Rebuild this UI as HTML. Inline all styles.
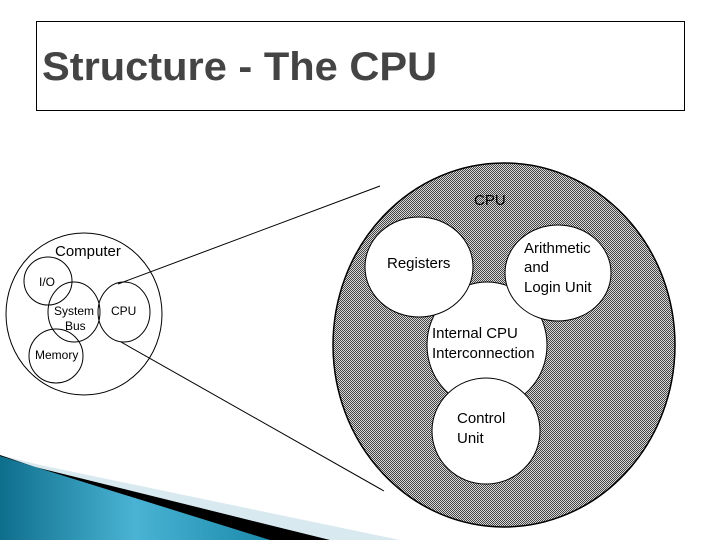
<!DOCTYPE html>
<html><head><meta charset="utf-8"><style>
html,body{margin:0;padding:0;background:#fff;width:720px;height:540px;overflow:hidden}
svg{display:block}
</style></head><body>
<svg width="720" height="540" viewBox="0 0 720 540" xmlns="http://www.w3.org/2000/svg" font-family="Liberation Sans, sans-serif">
<defs>
<pattern id="dith" width="2" height="2" patternUnits="userSpaceOnUse">
<rect width="2" height="2" fill="#d8d8d8"/><rect width="1" height="1" fill="#444"/><rect x="1" y="1" width="1" height="1" fill="#444"/>
</pattern>
<linearGradient id="teal" x1="0" y1="0" x2="1" y2="0">
<stop offset="0" stop-color="#0e6f8c"/><stop offset="0.5" stop-color="#4ab3d4"/><stop offset="1" stop-color="#1c8aab"/>
</linearGradient>
</defs>
<rect x="36.5" y="21.5" width="648" height="89" fill="none" stroke="#000" stroke-width="1"/>
<text x="42" y="80" font-size="40" font-weight="bold" fill="#444" transform="translate(42 0) scale(1.04 1) translate(-42 0)">Structure - The CPU</text>

<polygon points="0,455 40,465 400,540 0,540" fill="#d9e9f0"/>
<polygon points="0,455 35,467 330,540 0,540" fill="#000"/>
<polygon points="0,456 270,540 0,540" fill="url(#teal)"/>

<line x1="118" y1="284" x2="380" y2="186" stroke="#000" stroke-width="1"/>
<line x1="121" y1="342" x2="384" y2="491" stroke="#000" stroke-width="1"/>

<g fill="none" stroke="#000" stroke-width="1">
<ellipse cx="84" cy="314" rx="78" ry="81"/>
<circle cx="48" cy="281" r="24"/>
<ellipse cx="74" cy="312" rx="26" ry="30"/>
<ellipse cx="124" cy="312" rx="26" ry="30"/>
<circle cx="56" cy="356" r="27"/>
</g>
<g font-size="12" fill="#000">
<text x="55" y="256" font-size="15">Computer</text>
<text x="39" y="286">I/O</text>
<text x="54" y="315">System</text>
<text x="65" y="330">Bus</text>
<text x="111" y="315">CPU</text>
<text x="35" y="359">Memory</text>
</g>

<ellipse cx="504" cy="345" rx="171" ry="182" fill="url(#dith)" stroke="#000" stroke-width="1.5"/>
<g fill="#fff" stroke="#000" stroke-width="1">
<ellipse cx="487" cy="345" rx="60" ry="63"/>
<ellipse cx="419" cy="267" rx="54" ry="50"/>
<ellipse cx="558" cy="273" rx="53" ry="48"/>
<ellipse cx="486" cy="431" rx="54" ry="53"/>
</g>
<g font-size="15" fill="#000">
<text x="474" y="205">CPU</text>
<text x="387" y="268">Registers</text>
<text x="524" y="253">Arithmetic</text>
<text x="524" y="272">and</text>
<text x="524" y="292">Login Unit</text>
<text x="432" y="338">Internal CPU</text>
<text x="432" y="358">Interconnection</text>
<text x="457" y="423">Control</text>
<text x="457" y="443">Unit</text>
</g>
</svg>
</body></html>
